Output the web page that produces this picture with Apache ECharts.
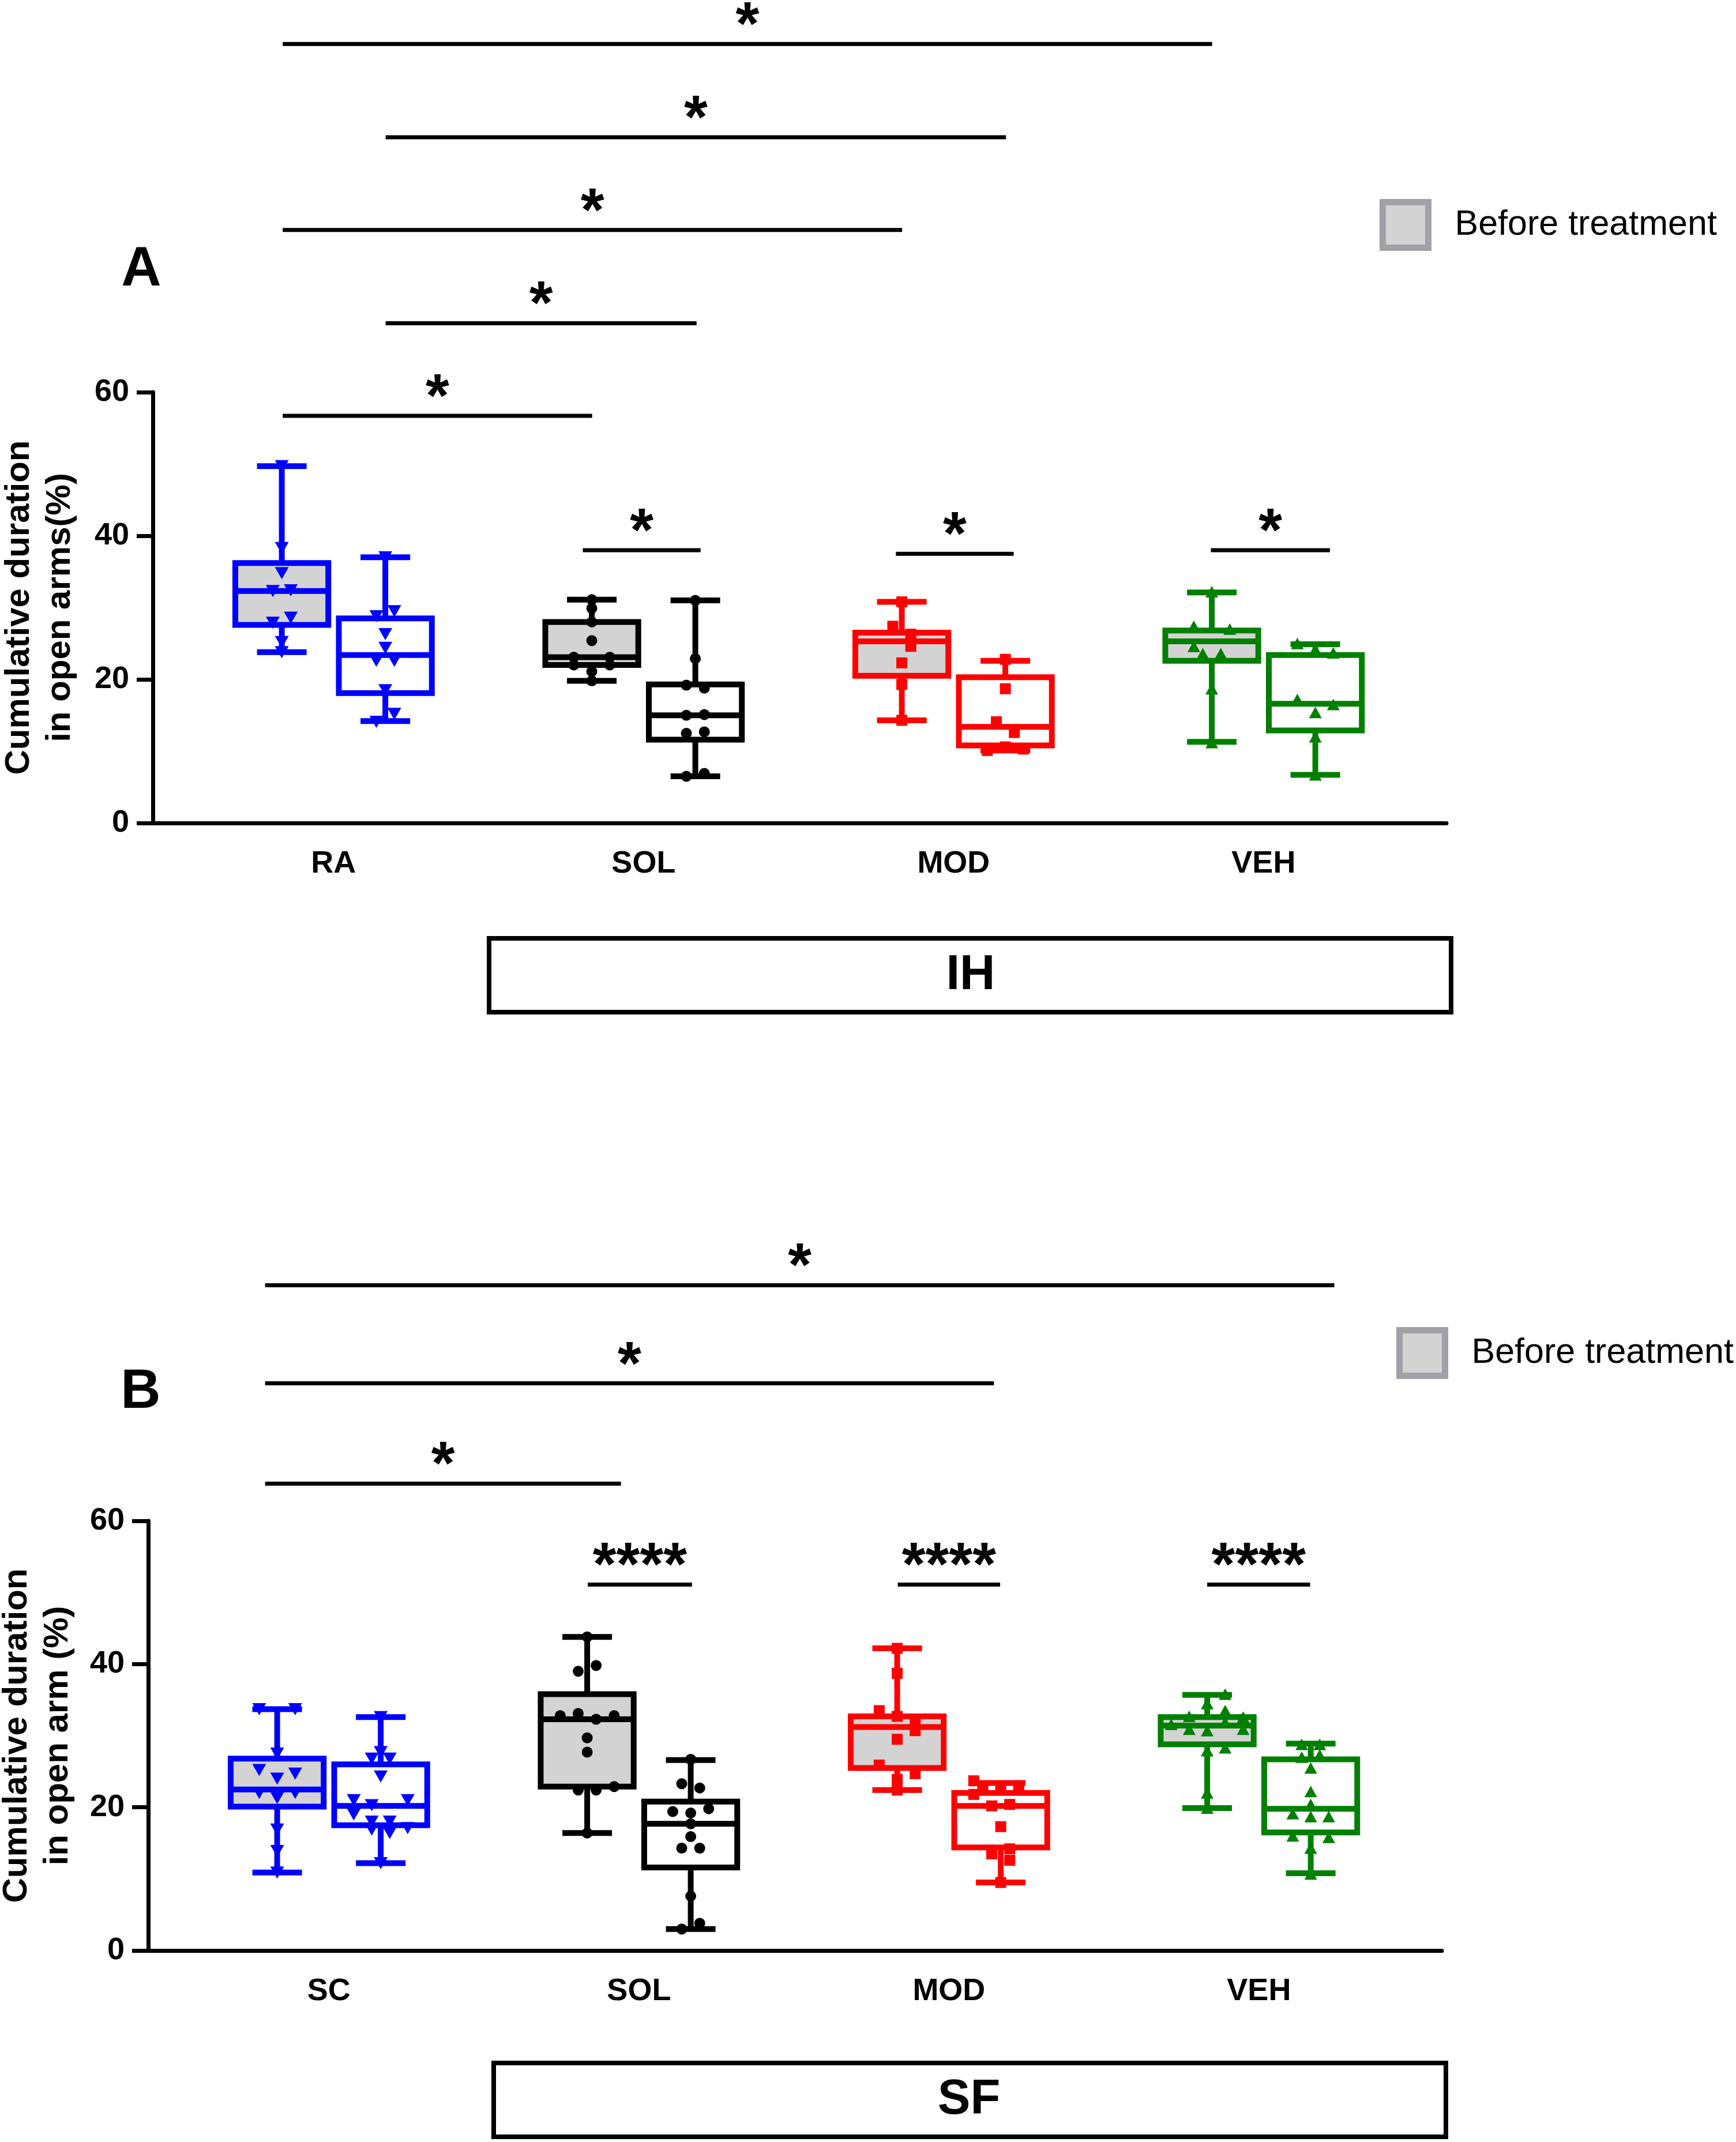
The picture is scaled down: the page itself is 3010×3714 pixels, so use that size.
<!DOCTYPE html>
<html>
<head>
<meta charset="utf-8">
<script src="https://cdn.jsdelivr.net/npm/echarts@6/dist/echarts.min.js"></script>
<style>
html,body{margin:0;padding:0;background:#fff;}
#chart{width:3010px;height:3714px;}
</style>
</head>
<body>
<div id="chart"></div>
<script>
// ---------- Data ----------
const catsA = ['RA', 'SOL', 'MOD', 'VEH'];
const catsB = ['SC', 'SOL', 'MOD', 'VEH'];

// box stats: [min, q1, median, q3, max]
const boxBeforeA = [
  [23.8, 27.6, 32.3, 36.2, 49.7],
  [19.8, 22.0, 23.1, 28.0, 31.1],
  [14.3, 20.5, 25.3, 26.5, 30.8],
  [11.3, 22.6, 25.3, 26.8, 32.1]
];
const boxAfterA = [
  [14.2, 18.1, 23.4, 28.5, 37.0],
  [6.5, 11.6, 15.0, 19.3, 31.0],
  [10.1, 10.8, 13.4, 20.3, 22.6],
  [6.7, 12.9, 16.6, 23.4, 24.9]
];
const boxBeforeB = [
  [10.9, 20.1, 22.5, 26.8, 33.7],
  [16.4, 22.9, 32.3, 35.8, 43.8],
  [22.4, 25.5, 31.2, 32.7, 42.2],
  [19.9, 28.8, 31.4, 32.6, 35.7]
];
const boxAfterB = [
  [12.2, 17.5, 20.2, 26.0, 32.6],
  [3.0, 11.6, 17.7, 20.8, 26.6],
  [9.5, 14.4, 20.2, 22.0, 23.4],
  [10.8, 16.5, 19.8, 26.7, 28.9]
];

// individual points: [jitter step, value]
const ptsBeforeA = [
  [[0,49.7],[0,38.3],[0,34.8],[-1,32.3],[1,32.4],[-1,27.9],[1,28.6],[0,25.2],[0,23.8]],
  [[0,31.1],[0,29.9],[0,28.0],[0,25.4],[-2,23.1],[2,23.1],[-2,22.0],[2,22.0],[0,21.1],[0,19.8]],
  [[0,30.8],[-1,27.4],[1,26.3],[1,24.6],[0,22.3],[0,19.3],[0,14.3]],
  [[0,32.2],[-2,27.4],[2,27.0],[-2,24.6],[-1,23.6],[1,23.6],[0,18.7],[0,11.2]]
];
const ptsAfterA = [
  [[0,37.0],[-1,28.8],[1,29.5],[0,26.3],[0,24.4],[-1,22.6],[1,22.6],[0,18.5],[1,15.2],[-1,14.1]],
  [[0,31.0],[0,22.9],[-1,19.2],[1,18.8],[-1,15.0],[1,15.1],[-1,12.5],[1,12.7],[-1,6.5],[1,6.9]],
  [[0,22.8],[0,18.7],[-1,14.1],[1,12.6],[-2,10.1],[2,10.3],[0,10.6]],
  [[-2,25.0],[0,24.2],[2,23.7],[-2,17.2],[2,16.5],[0,15.4],[0,12.0],[0,6.7]]
];
const ptsBeforeB = [
  [[-2,33.7],[2,33.7],[0,27.5],[-2,25.2],[2,24.7],[0,24.0],[-2,22.0],[2,22.0],[0,21.3],[0,16.9],[0,13.9],[0,10.9]],
  [[0,43.8],[1,39.8],[-1,39.0],[-1,33.1],[-3,32.8],[3,32.8],[1,32.3],[0,29.7],[0,27.7],[-1,22.4],[1,22.4],[3,22.9],[0,16.4]],
  [[0,42.2],[0,38.7],[-2,33.5],[0,32.7],[2,31.9],[2,30.7],[0,29.5],[-2,25.9],[2,24.7],[0,23.9],[0,22.4]],
  [[2,35.8],[0,34.5],[2,33.5],[-2,32.7],[4,32.6],[-4,31.6],[2,31.9],[-2,30.9],[0,30.7],[4,30.9],[2,28.3],[0,27.9],[0,22.0],[0,19.9]]
];
const ptsAfterB = [
  [[0,32.6],[0,27.7],[-1,26.8],[1,26.8],[0,24.3],[-3,21.0],[3,21.0],[-1,20.3],[-3,19.0],[-1,18.0],[1,18.0],[-1,16.9],[1,16.4],[3,17.1],[0,12.2]],
  [[0,26.7],[-1,23.3],[1,22.7],[-2,19.4],[0,19.2],[2,19.8],[0,17.7],[0,15.9],[-1,14.3],[1,14.3],[0,7.6],[-1,3.0],[1,3.8]],
  [[-3,23.7],[-2,22.8],[0,22.8],[2,22.8],[-3,21.8],[-1,20.2],[1,20.4],[0,17.3],[1,14.2],[-1,13.5],[1,12.6],[0,9.5]],
  [[-1,28.8],[1,28.8],[-1,27.0],[1,27.3],[0,25.5],[0,22.2],[0,20.4],[-2,19.1],[0,18.7],[2,18.7],[-2,16.0],[2,15.8],[0,14.3],[0,10.7]]
];

// significance bars: [x start, x end, y level] in axis units
const sigA = [[-0.164,2.834,108.5],[0.168,2.169,95.5],[-0.164,1.834,82.6],[0.168,1.171,69.6],[-0.164,0.834,56.7],[0.804,1.184,38.0],[1.814,2.194,37.5],[2.830,3.214,38.0]];
const sigLabelsA = ['*','*','*','*','*','*','*','*'];
const sigB = [[-0.206,3.243,92.9],[-0.206,2.145,79.2],[-0.206,0.942,65.2],[0.835,1.171,51.1],[1.835,2.165,51.1],[2.833,3.165,51.1]];
const sigLabelsB = ['*','*','*','****','****','****'];

const yTicks = [0, 20, 40, 60];

// ---------- Styling ----------
const FONT = "'Liberation Sans', Arial, Helvetica, sans-serif";
const palette = ['#0000ff', '#000000', '#ff0000', '#008000'];
const symbols = ['triangle', 'circle', 'rect', 'triangle'];
const symRot = [180, 0, 0, 0];
const symSize = [[24, 21], 19, 19, [22, 20]];
const BOX_OFFSET = 0.167;
const BOX_W = 0.30;
const CAP_W = 0.16;
const JITTER = 0.029;
const LW = 10;

function boxRender(fill) {
  return function (params, api) {
    const x = api.value(0);
    const c = api.value(6);
    const col = palette[c];
    const pMin = api.coord([x, api.value(1)]);
    const pQ1 = api.coord([x, api.value(2)]);
    const pMed = api.coord([x, api.value(3)]);
    const pQ3 = api.coord([x, api.value(4)]);
    const pMax = api.coord([x, api.value(5)]);
    const hw = api.size([BOX_W, 0])[0] / 2;
    const cw = api.size([CAP_W, 0])[0] / 2;
    const cx = pMed[0];
    const ls = { stroke: col, lineWidth: LW };
    return {
      type: 'group',
      children: [
        { type: 'line', shape: { x1: cx, y1: pQ3[1], x2: cx, y2: pMax[1] }, style: ls },
        { type: 'line', shape: { x1: cx, y1: pQ1[1], x2: cx, y2: pMin[1] }, style: ls },
        { type: 'line', shape: { x1: cx - cw, y1: pMax[1], x2: cx + cw, y2: pMax[1] }, style: ls },
        { type: 'line', shape: { x1: cx - cw, y1: pMin[1], x2: cx + cw, y2: pMin[1] }, style: ls },
        { type: 'rect', shape: { x: cx - hw, y: pQ3[1], width: hw * 2, height: pQ1[1] - pQ3[1] },
          style: { fill: fill, stroke: col, lineWidth: LW } },
        { type: 'line', shape: { x1: cx - hw, y1: pMed[1], x2: cx + hw, y2: pMed[1] }, style: ls }
      ]
    };
  };
}

function sigRender(labels) {
  return function (params, api) {
    const p1 = api.coord([api.value(0), api.value(2)]);
    const p2 = api.coord([api.value(1), api.value(2)]);
    return {
      type: 'group',
      children: [
        { type: 'line', shape: { x1: p1[0], y1: p1[1], x2: p2[0], y2: p2[1] },
          style: { stroke: '#000', lineWidth: 7 } },
        { type: 'text', style: { x: (p1[0] + p2[0]) / 2, y: p1[1] - 28, text: labels[params.dataIndex],
          fill: '#000', fontSize: 105, fontWeight: 'bold', fontFamily: FONT,
          align: 'center', verticalAlign: 'middle' } }
      ]
    };
  };
}

const series = [];
function addPanel(pi, boxBefore, boxAfter, ptsBefore, ptsAfter, sig, sigLabels) {
  series.push({
    name: 'Before treatment', type: 'custom', xAxisIndex: pi, yAxisIndex: pi,
    renderItem: boxRender('#d3d3d3'), silent: true, z: 2,
    itemStyle: { color: '#d3d3d3', borderColor: '#a0a0a6' },
    data: boxBefore.map((s, c) => [c - BOX_OFFSET, s[0], s[1], s[2], s[3], s[4], c])
  });
  series.push({
    name: 'After treatment', type: 'custom', xAxisIndex: pi, yAxisIndex: pi,
    renderItem: boxRender('#ffffff'), silent: true, z: 2,
    data: boxAfter.map((s, c) => [c + BOX_OFFSET, s[0], s[1], s[2], s[3], s[4], c])
  });
  [[ptsBefore, -1], [ptsAfter, 1]].forEach(([pts, sign]) => {
    pts.forEach((arr, c) => {
      series.push({
        type: 'scatter', xAxisIndex: pi, yAxisIndex: pi, silent: true, z: 5,
        symbol: symbols[c], symbolRotate: symRot[c], symbolSize: symSize[c],
        itemStyle: { color: palette[c], opacity: 1 },
        data: arr.map(([j, v]) => [c + sign * BOX_OFFSET + j * JITTER, v])
      });
    });
  });
  series.push({
    type: 'custom', xAxisIndex: pi, yAxisIndex: pi, silent: true, z: 6, clip: false,
    renderItem: sigRender(sigLabels),
    data: sig
  });
}
addPanel(0, boxBeforeA, boxAfterA, ptsBeforeA, ptsAfterA, sigA, sigLabelsA);
addPanel(1, boxBeforeB, boxAfterB, ptsBeforeB, ptsAfterB, sigB, sigLabelsB);

function xAxisCfg(gi, cats) {
  return {
    type: 'value', gridIndex: gi, min: -0.583, max: 3.59,
    axisLine: { show: true, onZero: false, lineStyle: { color: '#000', width: 7 } },
    axisTick: { show: false },
    splitLine: { show: false },
    axisLabel: {
      customValues: [0, 1, 2, 3],
      formatter: v => cats[Math.round(v)] || '',
      fontSize: 54, fontWeight: 'bold', color: '#000', fontFamily: FONT, margin: 44
    }
  };
}
function yAxisCfg(gi, name, gap) {
  return {
    type: 'value', gridIndex: gi, min: 0, max: 60, interval: 20,
    axisLine: { show: true, onZero: false, lineStyle: { color: '#000', width: 7 } },
    axisTick: { show: true, length: 28, lineStyle: { color: '#000', width: 7 }, customValues: yTicks },
    splitLine: { show: false },
    axisLabel: { fontSize: 54, fontWeight: 'bold', color: '#000', fontFamily: FONT, margin: 41, customValues: yTicks },
    name: name, nameLocation: 'middle', nameRotate: 90, nameGap: gap,
    nameTextStyle: { fontSize: 60, fontWeight: 'bold', color: '#000', fontFamily: FONT, lineHeight: 71 }
  };
}

const legendCommon = {
  orient: 'horizontal', padding: 0, itemWidth: 79, itemHeight: 79, selectedMode: false,
  data: [{ name: 'Before treatment', icon: 'rect',
    itemStyle: { color: '#d3d3d3', borderColor: '#a0a0a6', borderWidth: 11 } }],
  textStyle: { fontSize: 61, color: '#000', fontFamily: FONT, padding: [0, 0, 0, 41] }
};

const option = {
  backgroundColor: '#ffffff',
  animation: false,
  grid: [
    { left: 265, right: 502, top: 680, bottom: 2287, containLabel: false, outerBoundsMode: 'none' },
    { left: 257, right: 510, top: 2637, bottom: 332, containLabel: false, outerBoundsMode: 'none' }
  ],
  xAxis: [xAxisCfg(0, catsA), xAxisCfg(1, catsB)],
  yAxis: [
    yAxisCfg(0, 'Cumulative duration\nin open arms(%)', 125),
    yAxisCfg(1, 'Cumulative duration\nin open arm (%)', 121)
  ],
  legend: [
    Object.assign({}, legendCommon, { left: 2392, top: 345 }),
    Object.assign({}, legendCommon, { left: 2421, top: 2301 })
  ],
  graphic: [
    { type: 'text', x: 245, y: 469, style: { text: 'A', fontSize: 96, fontWeight: 'bold', fontFamily: FONT, fill: '#000', align: 'center', verticalAlign: 'middle' } },
    { type: 'text', x: 244, y: 2415, style: { text: 'B', fontSize: 96, fontWeight: 'bold', fontFamily: FONT, fill: '#000', align: 'center', verticalAlign: 'middle' } },
    { type: 'rect', shape: { x: 848, y: 1627, width: 1668, height: 128 }, style: { fill: 'none', stroke: '#000', lineWidth: 8 } },
    { type: 'text', x: 1683, y: 1692, style: { text: 'IH', fontSize: 85, fontWeight: 'bold', fontFamily: FONT, fill: '#000', align: 'center', verticalAlign: 'middle' } },
    { type: 'rect', shape: { x: 856, y: 3577, width: 1651, height: 128 }, style: { fill: 'none', stroke: '#000', lineWidth: 8 } },
    { type: 'text', x: 1680, y: 3642, style: { text: 'SF', fontSize: 85, fontWeight: 'bold', fontFamily: FONT, fill: '#000', align: 'center', verticalAlign: 'middle' } }
  ],
  series: series
};

const chart = echarts.init(document.getElementById('chart'), null, { renderer: 'canvas' });
chart.setOption(option);
</script>
</body>
</html>
